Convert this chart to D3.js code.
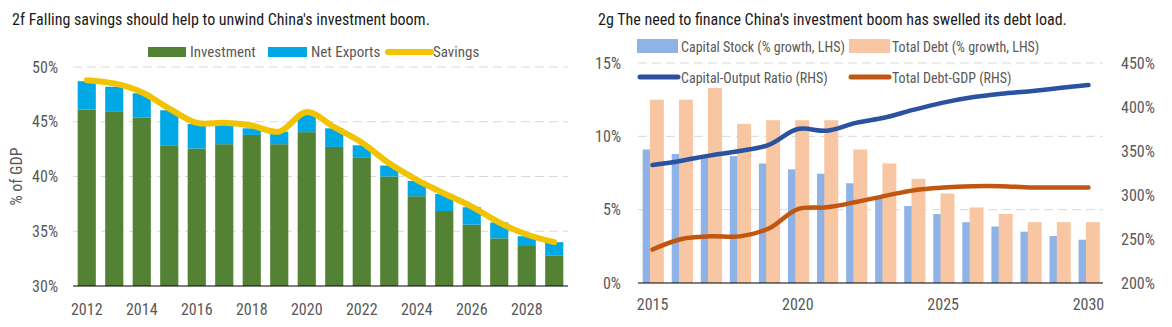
<!DOCTYPE html>
<html>
<head>
<meta charset="utf-8">
<script src="https://cdn.jsdelivr.net/npm/d3@7"></script>
<style>
  body { margin: 0; background: #fff; }
  svg text { font-family: "Liberation Sans Narrow", "Roboto Condensed", "DejaVu Sans Condensed", sans-serif; }
</style>
</head>
<body>
<svg id="chart" width="1172" height="327"></svg>
<script>
// ---- left chart: 2f ----
const yearsF = d3.range(2012, 2030);
const investment = [46.1, 45.9, 45.4, 42.8, 42.55, 42.95, 43.8, 42.95, 44.05, 42.7, 41.7, 40.0, 38.2, 36.85, 35.6, 34.35, 33.65, 32.8];
const netExports = [2.6, 2.3, 2.2, 3.25, 2.25, 1.85, 0.6, 1.15, 1.75, 1.7, 1.15, 1.0, 1.4, 1.55, 1.6, 1.45, 0.9, 1.2];
const savings = [48.8, 48.5, 47.7, 46.2, 44.9, 44.9, 44.65, 44.1, 45.9, 44.5, 43.1, 41.2, 39.7, 38.45, 37.25, 35.8, 34.7, 34.0];
const ticksF = [30, 35, 40, 45, 50];

// ---- right chart: 2g ----
const yearsG = d3.range(2015, 2031);
const capitalStock = [9.1, 8.8, 8.6, 8.65, 8.15, 7.75, 7.45, 6.8, 5.9, 5.25, 4.7, 4.15, 3.85, 3.5, 3.2, 2.95];
const totalDebt = [12.5, 12.5, 13.3, 10.85, 11.1, 11.1, 11.1, 9.1, 8.15, 7.1, 6.1, 5.15, 4.7, 4.15, 4.15, 4.15];
const capOutput = [334, 339, 345, 350, 357, 375, 373, 382, 388, 397, 405, 411, 415, 418, 421.5, 425];
const debtGdp = [238, 250, 253, 253, 262, 284, 286, 292, 299, 305.5, 308.5, 310, 310, 308.5, 308.5, 308.5];
const ticksLeftG = [0, 5, 10, 15];
const ticksRightG = [200, 250, 300, 350, 400, 450];
const labelYearsG = [2015, 2020, 2025, 2030];

const svg = d3.select("#chart");
const grey = "#595959";
const gridColor = "#d9d9d9";

// ================= 2f =================
const f = { left: 73, right: 568, top: 67, bottom: 286 };

const xF = d3.scaleBand().domain(yearsF).range([f.left, f.right]).paddingInner(0.34).paddingOuter(0.17);
const yF = d3.scaleLinear().domain([30, 50]).range([f.bottom, f.top]);

svg.append("text").attr("x", 12).attr("y", 25)
  .attr("font-size", 16).attr("fill", "#1a1a1a")
  .text("2f  Falling savings should help to unwind China's investment boom.");

svg.append("g").selectAll("line")
  .data(ticksF.filter(d => d > 30))
  .join("line")
  .attr("x1", f.left).attr("x2", f.right)
  .attr("y1", d => yF(d)).attr("y2", d => yF(d))
  .attr("stroke", gridColor).attr("stroke-dasharray", "9,5");

const gF = svg.append("g");
gF.selectAll(".inv").data(yearsF).join("rect")
  .attr("x", d => xF(d)).attr("width", xF.bandwidth())
  .attr("y", (d, i) => yF(investment[i]))
  .attr("height", (d, i) => yF(30) - yF(investment[i]))
  .attr("fill", "#548235");
gF.selectAll(".nx").data(yearsF).join("rect")
  .attr("x", d => xF(d)).attr("width", xF.bandwidth())
  .attr("y", (d, i) => yF(investment[i] + netExports[i]))
  .attr("height", (d, i) => yF(investment[i]) - yF(investment[i] + netExports[i]))
  .attr("fill", "#00a9e6");

const lineF = d3.line()
  .x((d, i) => xF(yearsF[i]) + xF.bandwidth() / 2)
  .y(d => yF(d))
  .curve(d3.curveCatmullRom.alpha(0.5));
svg.append("path").datum(savings)
  .attr("d", lineF).attr("fill", "none")
  .attr("stroke", "#f2c300").attr("stroke-width", 6).attr("stroke-linecap", "round");

svg.append("line").attr("x1", f.left).attr("x2", f.right)
  .attr("y1", f.bottom).attr("y2", f.bottom).attr("stroke", "#000").attr("stroke-width", 1.2);

const yAxisF = svg.append("g").attr("transform", `translate(${f.left - 15},0)`)
  .call(d3.axisLeft(yF).tickValues(ticksF).tickSize(0).tickPadding(0).tickFormat(d => d + "%"));
yAxisF.select(".domain").remove();
yAxisF.selectAll("text").attr("font-size", 16).attr("fill", grey).attr("font-family", null);

const xAxisF = svg.append("g").attr("transform", `translate(0,${f.bottom + 14})`)
  .call(d3.axisBottom(xF).tickValues(yearsF.filter(d => d % 2 === 0)).tickSize(0).tickPadding(4));
xAxisF.select(".domain").remove();
xAxisF.selectAll("text").attr("font-size", 16).attr("fill", grey).attr("font-family", null);

svg.append("text")
  .attr("transform", `translate(22,${(f.top + f.bottom) / 2 + 0}) rotate(-90)`)
  .attr("text-anchor", "middle").attr("font-size", 16).attr("fill", grey)
  .text("% of GDP");

// legend 2f
const legF = svg.append("g").attr("font-size", 15).attr("fill", grey);
legF.append("rect").attr("x", 148).attr("y", 47).attr("width", 38).attr("height", 10).attr("fill", "#548235");
legF.append("text").attr("x", 190).attr("y", 57).text("Investment");
legF.append("rect").attr("x", 268).attr("y", 47).attr("width", 39).attr("height", 10).attr("fill", "#00a9e6");
legF.append("text").attr("x", 311).attr("y", 57).text("Net Exports");
legF.append("line").attr("x1", 388).attr("x2", 431).attr("y1", 52).attr("y2", 52)
  .attr("stroke", "#f2c300").attr("stroke-width", 6).attr("stroke-linecap", "round");
legF.append("text").attr("x", 433).attr("y", 57).text("Savings");

// ================= 2g =================
const g = { left: 638, right: 1103, top: 63, bottom: 283 };

const xG = d3.scaleBand().domain(yearsG).range([g.left, g.right]);
const yGL = d3.scaleLinear().domain([0, 15]).range([g.bottom, g.top]);
const yGR = d3.scaleLinear().domain([200, 450]).range([g.bottom, g.top]);
const bw = xG.bandwidth();

svg.append("text").attr("x", 598).attr("y", 25)
  .attr("font-size", 16).attr("fill", "#1a1a1a")
  .text("2g  The need to finance China's investment boom has swelled its debt load.");

svg.append("g").selectAll("line")
  .data(ticksLeftG.filter(d => d > 0))
  .join("line")
  .attr("x1", g.left).attr("x2", g.right)
  .attr("y1", d => yGL(d)).attr("y2", d => yGL(d))
  .attr("stroke", gridColor).attr("stroke-dasharray", "9,5");

const gG = svg.append("g");
gG.selectAll(".cs").data(yearsG).join("rect")
  .attr("x", d => xG(d) + bw * 0.16).attr("width", bw * 0.48)
  .attr("y", (d, i) => yGL(capitalStock[i]))
  .attr("height", (d, i) => yGL(0) - yGL(capitalStock[i]))
  .attr("fill", "#8fb3e6");
gG.selectAll(".td").data(yearsG).join("rect")
  .attr("x", d => xG(d) + bw * 0.41).attr("width", bw * 0.48)
  .attr("y", (d, i) => yGL(totalDebt[i]))
  .attr("height", (d, i) => yGL(0) - yGL(totalDebt[i]))
  .attr("fill", "#f8c6a2");

svg.append("line").attr("x1", g.left).attr("x2", g.right)
  .attr("y1", g.bottom).attr("y2", g.bottom).attr("stroke", "#000").attr("stroke-width", 1.2);

const lineG = d3.line()
  .x((d, i) => xG(yearsG[i]) + bw / 2)
  .y(d => yGR(d))
  .curve(d3.curveCatmullRom.alpha(0.5));
svg.append("path").datum(capOutput)
  .attr("d", lineG).attr("fill", "none")
  .attr("stroke", "#2a52a0").attr("stroke-width", 4.5).attr("stroke-linecap", "round");
svg.append("path").datum(debtGdp)
  .attr("d", lineG).attr("fill", "none")
  .attr("stroke", "#c0560f").attr("stroke-width", 4.5).attr("stroke-linecap", "round");

const yAxisGL = svg.append("g").attr("transform", `translate(621,0)`)
  .call(d3.axisLeft(yGL).tickValues(ticksLeftG).tickSize(0).tickPadding(0).tickFormat(d => d + "%"));
yAxisGL.select(".domain").remove();
yAxisGL.selectAll("text").attr("font-size", 16).attr("fill", grey).attr("font-family", null);

const yAxisGR = svg.append("g").attr("transform", `translate(1121,0)`)
  .call(d3.axisRight(yGR).tickValues(ticksRightG).tickSize(0).tickPadding(0).tickFormat(d => d + "%"));
yAxisGR.select(".domain").remove();
yAxisGR.selectAll("text").attr("font-size", 16).attr("fill", grey).attr("font-family", null);

const xAxisG = svg.append("g").attr("transform", `translate(0,${g.bottom + 13})`)
  .call(d3.axisBottom(xG).tickValues(labelYearsG).tickSize(0).tickPadding(3));
xAxisG.select(".domain").remove();
xAxisG.selectAll("text").attr("font-size", 16).attr("fill", grey).attr("font-family", null);

// legend 2g
const legG = svg.append("g").attr("font-size", 14).attr("fill", grey);
legG.append("rect").attr("x", 637).attr("y", 39).attr("width", 41).attr("height", 14).attr("fill", "#8fb3e6");
legG.append("text").attr("x", 681).attr("y", 52).text("Capital Stock (% growth, LHS)");
legG.append("rect").attr("x", 849).attr("y", 39).attr("width", 41).attr("height", 14).attr("fill", "#f8c6a2");
legG.append("text").attr("x", 892).attr("y", 52).text("Total Debt (% growth, LHS)");
legG.append("line").attr("x1", 640).attr("x2", 678).attr("y1", 77).attr("y2", 77)
  .attr("stroke", "#2a52a0").attr("stroke-width", 5).attr("stroke-linecap", "round");
legG.append("text").attr("x", 681).attr("y", 83).text("Capital-Output Ratio (RHS)");
legG.append("line").attr("x1", 851).attr("x2", 889).attr("y1", 77).attr("y2", 77)
  .attr("stroke", "#c0560f").attr("stroke-width", 5).attr("stroke-linecap", "round");
legG.append("text").attr("x", 892).attr("y", 83).text("Total Debt-GDP (RHS)");
</script>
</body>
</html>
